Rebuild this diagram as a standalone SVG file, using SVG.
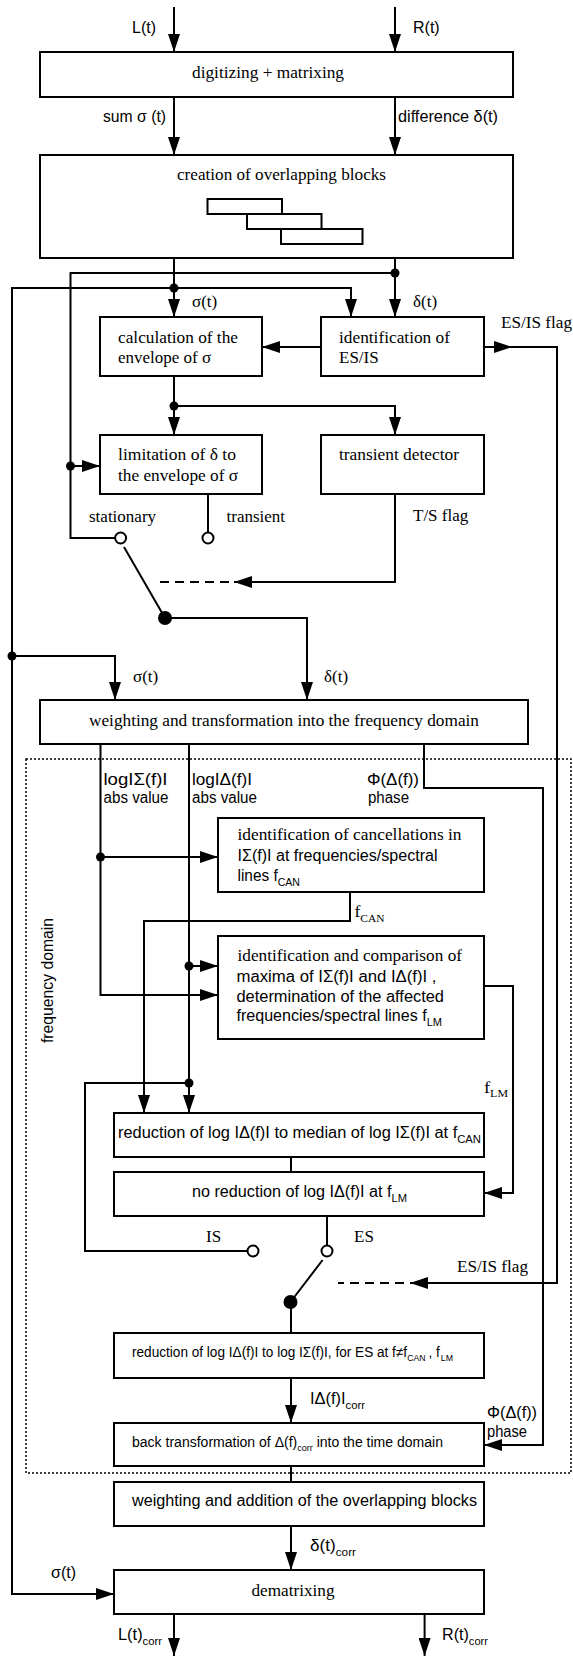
<svg xmlns="http://www.w3.org/2000/svg" width="573" height="1656" viewBox="0 0 573 1656">
<defs>
<marker id="ah" markerUnits="userSpaceOnUse" markerWidth="18" markerHeight="12" refX="18" refY="6" orient="auto"><path d="M0,0 L18,6 L0,12 z" fill="#000"/></marker>
</defs>
<style>
.box{fill:#fff;stroke:#000;stroke-width:2}
.c{fill:none;stroke:#000;stroke-width:2}
.a{marker-end:url(#ah)}
.d{fill:none;stroke:#000;stroke-width:2;stroke-dasharray:9 6}
.dot{fill:#000}
.open{fill:#fff;stroke:#000;stroke-width:2}
.s{font-family:"Liberation Serif",serif;font-size:17px;fill:#000}
.n{font-family:"Liberation Sans",sans-serif;font-size:16px;fill:#000}
.ns{font-family:"Liberation Sans",sans-serif;font-size:14px;fill:#000}
.sb{font-size:11px}
.sb9{font-size:9px}
.frame{fill:none;stroke:#000;stroke-width:1.5;stroke-dasharray:2 2}
.blk{fill:none;stroke:#000;stroke-width:2}
</style>
<rect x="0" y="0" width="573" height="1656" fill="#fff"/>

<g id="frame-frequency-domain">
<rect class="frame" x="26" y="759" width="545" height="714"/>
<text class="n" transform="translate(53,1043) rotate(-90)" textLength="125" lengthAdjust="spacingAndGlyphs">frequency domain</text>
</g>

<g id="connectors">
<path class="c a" d="M174,7 V52"/>
<path class="c a" d="M395,7 V52"/>
<path class="c a" d="M174,97 V155"/>
<path class="c a" d="M395,97 V155"/>
<path class="c a" d="M174,258 V317"/>
<path class="c a" d="M395,258 V317"/>
<path class="c" d="M395,273 H70.5 V538 H115"/>
<path class="c a" d="M70.5,466 H100"/>
<path class="c a" d="M174,288 H351 V317"/>
<path class="c a" d="M174,288 H12 V1594 H114"/>
<path class="c a" d="M12,656 H115 V700"/>
<path class="c a" d="M321,347 H262"/>
<path class="c a" d="M484,347 H512"/>
<path class="c a" d="M510,347 H557 V1283 H410"/>
<path class="d" d="M404,1283 H338"/>
<path class="c a" d="M174,376 V435"/>
<path class="c a" d="M174,406 H395 V435"/>
<path class="c" d="M208,494 V532.5"/>
<path class="c a" d="M395,494 V582 H234"/>
<path class="d" d="M229,582 H158"/>
<path class="c" d="M124,547 L165,618"/>
<path class="c a" d="M165,618 H307 V700"/>
<path class="c a" d="M100.5,744 V995 H218"/>
<path class="c a" d="M100.5,857 H218"/>
<path class="c a" d="M189,744 V1113"/>
<path class="c a" d="M189,966 H218"/>
<path class="c" d="M189,1083 H85 V1251 H247.5"/>
<path class="c a" d="M424,744 V788 H543 V1445 H484"/>
<path class="c a" d="M350,892 V921 H144 V1113"/>
<path class="c a" d="M484,986 H513 V1193 H484"/>
<path class="c" d="M291,1157 V1172"/>
<path class="c" d="M327,1216 V1245.5"/>
<path class="c" d="M322.6,1260 L290.5,1302"/>
<path class="c" d="M291,1302 V1333"/>
<path class="c a" d="M291,1378 V1423"/>
<path class="c" d="M291,1466 V1482"/>
<path class="c a" d="M291,1526 V1570"/>
<path class="c a" d="M174,1614 V1656"/>
<path class="c a" d="M424.6,1614 V1656"/>
<circle class="dot" cx="395" cy="273" r="4.5"/>
<circle class="dot" cx="174" cy="288" r="4.5"/>
<circle class="dot" cx="70.5" cy="466" r="4.5"/>
<circle class="dot" cx="12" cy="656" r="4.5"/>
<circle class="dot" cx="174" cy="406" r="4.5"/>
<circle class="dot" cx="100.5" cy="857" r="4.5"/>
<circle class="dot" cx="189" cy="966" r="4.5"/>
<circle class="dot" cx="189" cy="1083" r="4.5"/>
</g>

<g id="labels">
<text class="n" x="132" y="33">L(t)</text>
<text class="n" x="413" y="33">R(t)</text>
<text class="n" x="103" y="122" textLength="63" lengthAdjust="spacingAndGlyphs">sum σ (t)</text>
<text class="n" x="398" y="122" textLength="100" lengthAdjust="spacingAndGlyphs">difference δ(t)</text>
<text class="s" x="192" y="307">σ(t)</text>
<text class="s" x="413" y="307">δ(t)</text>
<text class="s" x="501" y="328" textLength="71" lengthAdjust="spacingAndGlyphs">ES/IS flag</text>
<text class="s" x="89" y="522">stationary</text>
<text class="s" x="226.5" y="522">transient</text>
<text class="s" x="413" y="521">T/S flag</text>
<text class="s" x="133" y="682">σ(t)</text>
<text class="s" x="324" y="682">δ(t)</text>
<text class="n" x="103.5" y="785" textLength="64" lengthAdjust="spacingAndGlyphs">logIΣ(f)I</text>
<text class="n" x="103.5" y="803" textLength="65" lengthAdjust="spacingAndGlyphs">abs value</text>
<text class="n" x="192" y="785" textLength="60" lengthAdjust="spacingAndGlyphs">logIΔ(f)I</text>
<text class="n" x="192" y="803" textLength="65" lengthAdjust="spacingAndGlyphs">abs value</text>
<text class="n" x="367" y="785" textLength="52" lengthAdjust="spacingAndGlyphs">Φ(Δ(f))</text>
<text class="n" x="368" y="803" textLength="41" lengthAdjust="spacingAndGlyphs">phase</text>
<text class="s" x="354.5" y="917" textLength="30" lengthAdjust="spacingAndGlyphs">f<tspan class="sb" dy="5">CAN</tspan></text>
<text class="s" x="484" y="1093" textLength="24" lengthAdjust="spacingAndGlyphs">f<tspan class="sb" dy="4">LM</tspan></text>
<text class="s" x="206" y="1242">IS</text>
<text class="s" x="354" y="1242">ES</text>
<text class="s" x="457" y="1272" textLength="71" lengthAdjust="spacingAndGlyphs">ES/IS flag</text>
<text class="n" x="310" y="1404" textLength="55" lengthAdjust="spacingAndGlyphs">IΔ(f)I<tspan class="sb" dy="5">corr</tspan></text>
<text class="n" x="487" y="1418" textLength="50" lengthAdjust="spacingAndGlyphs">Φ(Δ(f))</text>
<text class="n" x="487" y="1437" textLength="40" lengthAdjust="spacingAndGlyphs">phase</text>
<text class="n" x="310" y="1551" textLength="46" lengthAdjust="spacingAndGlyphs">δ(t)<tspan class="sb" dy="5">corr</tspan></text>
<text class="n" x="51" y="1578">σ(t)</text>
<text class="n" x="118" y="1640" textLength="44" lengthAdjust="spacingAndGlyphs">L(t)<tspan class="sb" dy="5">corr</tspan></text>
<text class="n" x="442" y="1640" textLength="46" lengthAdjust="spacingAndGlyphs">R(t)<tspan class="sb" dy="5">corr</tspan></text>
</g>

<g id="n-digitizing">
<rect class="box" x="40" y="52" width="473" height="45"/>
<text class="s" x="192" y="78" textLength="152" lengthAdjust="spacingAndGlyphs">digitizing + matrixing</text>
</g>

<g id="n-blocks">
<rect class="box" x="40" y="155" width="473" height="103"/>
<text class="s" x="177" y="180" textLength="209" lengthAdjust="spacingAndGlyphs">creation of overlapping blocks</text>
<rect class="blk" x="207.5" y="199" width="74.5" height="15"/>
<rect class="blk" x="247" y="214" width="74.5" height="15"/>
<rect class="blk" x="281" y="229" width="81.5" height="15"/>
</g>

<g id="n-envelope">
<rect class="box" x="100" y="317" width="162" height="59"/>
<text class="s" x="118" y="343" textLength="120" lengthAdjust="spacingAndGlyphs">calculation of the</text>
<text class="s" x="118" y="363">envelope of σ</text>
</g>

<g id="n-esis">
<rect class="box" x="321" y="317" width="163" height="59"/>
<text class="s" x="339" y="343" textLength="111" lengthAdjust="spacingAndGlyphs">identification of</text>
<text class="s" x="339" y="363">ES/IS</text>
</g>

<g id="n-limitation">
<rect class="box" x="100" y="435" width="162" height="59"/>
<text class="s" x="118" y="460" textLength="118" lengthAdjust="spacingAndGlyphs">limitation of δ to</text>
<text class="s" x="118" y="481" textLength="120" lengthAdjust="spacingAndGlyphs">the envelope of σ</text>
</g>

<g id="n-transient">
<rect class="box" x="321" y="435" width="163" height="59"/>
<text class="s" x="339" y="460" textLength="120" lengthAdjust="spacingAndGlyphs">transient detector</text>
</g>

<g id="n-switch-ts">
<circle class="open" cx="120.6" cy="538" r="5.5"/>
<circle class="open" cx="208" cy="538" r="5.5"/>
<circle class="dot" cx="165" cy="618" r="7"/>
</g>

<g id="n-weight-freq">
<rect class="box" x="40" y="700" width="488" height="44"/>
<text class="s" x="89" y="726" textLength="390" lengthAdjust="spacingAndGlyphs">weighting and transformation into the frequency domain</text>
</g>

<g id="n-cancellations">
<rect class="box" x="218" y="818" width="266" height="74"/>
<text class="s" x="237.5" y="840" textLength="224" lengthAdjust="spacingAndGlyphs">identification of cancellations in</text>
<text class="n" x="237.5" y="861" textLength="200" lengthAdjust="spacingAndGlyphs">IΣ(f)I at frequencies/spectral</text>
<text class="n" x="237.5" y="881" textLength="62.5" lengthAdjust="spacingAndGlyphs">lines f<tspan class="sb" dy="5">CAN</tspan></text>
</g>

<g id="n-maxima">
<rect class="box" x="218" y="936" width="266" height="103"/>
<text class="s" x="237.5" y="961" textLength="224.5" lengthAdjust="spacingAndGlyphs">identification and comparison of</text>
<text class="n" x="236.5" y="982" textLength="200" lengthAdjust="spacingAndGlyphs">maxima of IΣ(f)I and IΔ(f)I ,</text>
<text class="n" x="236.5" y="1002" textLength="207.5" lengthAdjust="spacingAndGlyphs">determination of the affected</text>
<text class="n" x="236.5" y="1021" textLength="205.5" lengthAdjust="spacingAndGlyphs">frequencies/spectral lines f<tspan class="sb" dy="5">LM</tspan></text>
</g>

<g id="n-reduce-median">
<rect class="box" x="114" y="1113" width="370" height="44"/>
<text class="n" x="118" y="1138" textLength="363" lengthAdjust="spacingAndGlyphs">reduction of log IΔ(f)I to median of log IΣ(f)I  at f<tspan class="sb" dy="5">CAN</tspan></text>
</g>

<g id="n-no-reduction">
<rect class="box" x="114" y="1172" width="370" height="44"/>
<text class="n" x="192" y="1197" textLength="215" lengthAdjust="spacingAndGlyphs">no reduction of log IΔ(f)I at f<tspan class="sb" dy="5">LM</tspan></text>
</g>

<g id="n-switch-esis">
<circle class="open" cx="253" cy="1251" r="5.5"/>
<circle class="open" cx="327" cy="1251" r="5.5"/>
<circle class="dot" cx="290.5" cy="1302" r="7"/>
</g>

<g id="n-reduce-es">
<rect class="box" x="114" y="1333" width="370" height="45"/>
<text class="ns" x="132" y="1357" textLength="321" lengthAdjust="spacingAndGlyphs">reduction of log IΔ(f)I to log IΣ(f)I, for ES at f≠f<tspan class="sb9" dy="4">CAN</tspan><tspan dx="3" dy="-4">, f</tspan><tspan class="sb9" dx="1" dy="4">LM</tspan></text>
</g>

<g id="n-back-transform">
<rect class="box" x="114" y="1423" width="370" height="43"/>
<text class="ns" x="132" y="1447" textLength="311" lengthAdjust="spacingAndGlyphs">back transformation of Δ(f)<tspan class="sb9" dy="4">corr</tspan><tspan dy="-4"> into the time domain</tspan></text>
</g>

<g id="n-weight-add">
<rect class="box" x="114" y="1482" width="370" height="44"/>
<text class="n" x="132" y="1506" textLength="345" lengthAdjust="spacingAndGlyphs">weighting and addition of the overlapping  blocks</text>
</g>

<g id="n-dematrixing">
<rect class="box" x="114" y="1570" width="370" height="44"/>
<text class="s" x="251.5" y="1596" textLength="83" lengthAdjust="spacingAndGlyphs">dematrixing</text>
</g>
</svg>
